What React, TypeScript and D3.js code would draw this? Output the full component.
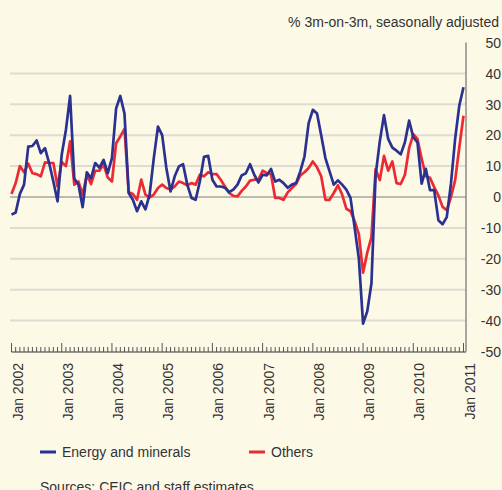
import { useRef, useEffect } from 'react';
import * as d3 from 'd3';

// monthly, Jan 2002 .. Jan 2011
const energyMinerals = [
  -5.7, -5, 1, 4, 16.3, 16.5, 18.3, 14.2, 15.8, 11, 5, -1.4,
  13.7, 21.7, 32.7, 6, 4, -3.3, 8, 6, 11, 9.5, 12, 7.7,
  12.6, 28.7, 32.7, 27, 1.3, -0.9, -4.6, -1.4, -4, 0.8, 12.6, 22.8,
  20, 9.4, 1.8, 6.7, 9.9, 10.6, 4, -0.3, -0.9, 5, 13, 13.3,
  5.6, 3.4, 3.4, 3, 1.6, 2.4, 4, 7, 7.7, 10.6, 7.2, 4.7,
  7.2, 7, 9.1, 5, 5.6, 4.5, 3, 4, 4.5, 8.3, 13.1, 23.9,
  28.2, 27, 20, 12.6, 8.3, 4, 5.4, 4, 2.4, -0.3, -10, -20,
  -41, -37, -28, 7, 18, 26.5, 18.8, 16, 15, 13.8, 17.7, 24.7,
  19.4, 17.7, 4.3, 9.1, 2.2, 2.2, -7.5, -8.8, -6.5, 4.3, 18.8, 29.6,
  35.5,
];

const others = [
  1, 4.5, 10, 8, 10.8, 7.7, 7.4, 6.7, 11.2, 11, 11, 3.4,
  11.3, 10, 18, 4, 5, 0.8, 7.2, 4.2, 8.5, 8.5, 10.6, 6.3,
  5, 17.4, 19.6, 22, 1.6, 1, -0.9, 5.6, 0.8, -0.1, 0.8, 2.9,
  4, 2.9, 2.4, 3.4, 5, 4.5, 3.8, 4.5, 4, 7.2, 6.7, 8,
  7.4, 7.4, 5.6, 3.4, 1.3, 0.4, 0.2, 2, 3.4, 5.3, 5.6, 5.6,
  8.5, 7.7, 7.4, -0.3, -0.3, -0.9, 1.5, 2.9, 4.2, 7, 8, 9.4,
  11.5, 9.6, 6.7, -0.9, -0.9, 1.3, 3.8, 0.8, -3.8, -4.6, -7.8, -12,
  -24.5, -18, -13, 9, 5.5, 13.3, 8.5, 11.5, 4.5, 4.2, 7.2, 15.8,
  20.3, 18.8, 12.4, 6.7, 6.2, 3.2, 0.5, -3.2, -4.3, 0, 5.4, 16.1,
  26.3,
];

const yTicks = [50, 40, 30, 20, 10, 0, -10, -20, -30, -40, -50];
const yearLabels = ['Jan 2002', 'Jan 2003', 'Jan 2004', 'Jan 2005', 'Jan 2006', 'Jan 2007', 'Jan 2008', 'Jan 2009', 'Jan 2010', 'Jan 2011'];
const seriesNames = ['Energy and minerals', 'Others'];

const W = 502;
const H = 490;
const BG = '#fdf9e7';
const BLUE = '#2b3190';
const RED = '#ec2a33';
const FONT = '"Liberation Sans", Arial, sans-serif';

export default function App() {
  const svgRef = useRef<SVGSVGElement | null>(null);

  useEffect(() => {
    if (!svgRef.current) return;
    const svg = d3.select(svgRef.current);
    svg.selectAll('*').remove();

    const left = 11.5;
    const right = 463.5;
    const axisX = 466;

    const x = d3.scaleLinear().domain([0, 108]).range([left, right]);
    const y = d3.scaleLinear().domain([-50, 50]).range([351.5, 42.5]);

    svg.append('rect').attr('width', W).attr('height', H).attr('fill', BG);

    // gridlines
    svg.append('g')
      .selectAll('line')
      .data(yTicks.filter((d) => d !== 0 && Math.abs(d) !== 50))
      .join('line')
      .attr('x1', 10)
      .attr('x2', axisX)
      .attr('y1', (d) => y(d))
      .attr('y2', (d) => y(d))
      .attr('stroke', '#dfdcd2')
      .attr('stroke-width', 2);

    svg.append('line')
      .attr('x1', 10)
      .attr('x2', axisX)
      .attr('y1', y(0))
      .attr('y2', y(0))
      .attr('stroke', '#7a7a7a')
      .attr('stroke-width', 1);

    // right axis
    svg.append('line')
      .attr('x1', axisX)
      .attr('x2', axisX)
      .attr('y1', y(50))
      .attr('y2', y(-50))
      .attr('stroke', '#8c8a84')
      .attr('stroke-width', 1.5);

    svg.append('g')
      .selectAll('text')
      .data(yTicks)
      .join('text')
      .attr('x', 501)
      .attr('y', (d) => y(d) + 1.5)
      .attr('dominant-baseline', 'middle')
      .attr('text-anchor', 'end')
      .attr('font-family', FONT)
      .attr('font-size', 14)
      .attr('fill', '#333')
      .text((d) => d);

    svg.append('text')
      .attr('x', 499)
      .attr('y', 27)
      .attr('text-anchor', 'end')
      .attr('font-family', FONT)
      .attr('font-size', 14)
      .attr('fill', '#333')
      .text('% 3m-on-3m, seasonally adjusted');

    // bottom axis with monthly ticks
    const baseY = 352;
    svg.append('line')
      .attr('x1', left)
      .attr('x2', axisX)
      .attr('y1', baseY)
      .attr('y2', baseY)
      .attr('stroke', '#333')
      .attr('stroke-width', 1.2);

    svg.append('g')
      .selectAll('line')
      .data(d3.range(0, 109))
      .join('line')
      .attr('x1', (d) => x(d))
      .attr('x2', (d) => x(d))
      .attr('y1', baseY)
      .attr('y2', (d) => (d % 12 === 0 ? baseY - 9 : baseY - 5))
      .attr('stroke', '#555')
      .attr('stroke-width', 1);

    svg.append('g')
      .selectAll('text')
      .data(yearLabels)
      .join('text')
      .attr('transform', (_, i) => `translate(${x(i * 12) + 11},363) rotate(-90)`)
      .attr('text-anchor', 'end')
      .attr('font-family', FONT)
      .attr('font-size', 14)
      .attr('fill', '#333')
      .text((d) => d);

    const line = d3
      .line<number>()
      .x((_, i) => x(i))
      .y((d) => y(d));

    svg.append('path')
      .datum(others)
      .attr('fill', 'none')
      .attr('stroke', RED)
      .attr('stroke-width', 2.7)
      .attr('stroke-linejoin', 'round')
      .attr('d', line);

    svg.append('path')
      .datum(energyMinerals)
      .attr('fill', 'none')
      .attr('stroke', BLUE)
      .attr('stroke-width', 2.7)
      .attr('stroke-linejoin', 'round')
      .attr('d', line);

    // legend
    const legend = svg.append('g');
    [
      { name: seriesNames[0], color: BLUE, x: 40 },
      { name: seriesNames[1], color: RED, x: 249 },
    ].forEach((s) => {
      legend.append('line')
        .attr('x1', s.x)
        .attr('x2', s.x + 16)
        .attr('y1', 452)
        .attr('y2', 452)
        .attr('stroke', s.color)
        .attr('stroke-width', 3);
      legend.append('text')
        .attr('x', s.x + 22)
        .attr('y', 457)
        .attr('font-family', FONT)
        .attr('font-size', 14)
        .attr('fill', '#333')
        .text(s.name);
    });

    svg.append('text')
      .attr('x', 40)
      .attr('y', 492)
      .attr('font-family', FONT)
      .attr('font-size', 14)
      .attr('fill', '#333')
      .text('Sources: CEIC and staff estimates.');
  }, []);

  return (
    <div style={{ position: 'fixed', left: 0, top: 0 }}>
      <svg ref={svgRef} width={W} height={H} style={{ display: 'block' }} />
    </div>
  );
}
